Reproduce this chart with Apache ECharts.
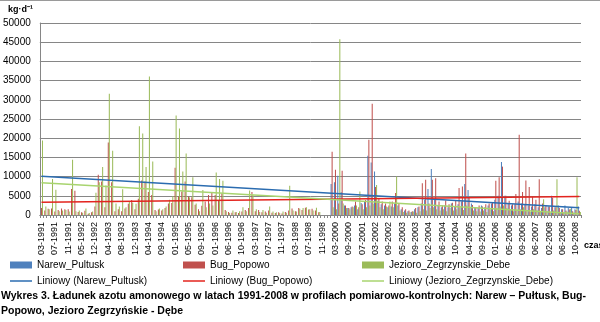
<!DOCTYPE html>
<html>
<head>
<meta charset="utf-8">
<script src="https://cdn.jsdelivr.net/npm/echarts@6/dist/echarts.min.js"></script>
<style>
  html, body { margin: 0; padding: 0; background: #ffffff; }
  #chart { width: 600px; height: 322px; }
</style>
</head>
<body>
<div id="chart"></div>
<script>
// Sampling dates (month-year)
const months = [
  '03-1991','04-1991','05-1991','06-1991','07-1991','08-1991','09-1991','10-1991',
  '11-1991','01-1992','02-1992','04-1992','05-1992','07-1992','09-1992','10-1992',
  '12-1992','01-1993','02-1993','03-1993','04-1993','05-1993','06-1993','07-1993',
  '08-1993','09-1993','10-1993','11-1993','12-1993','01-1994','02-1994','03-1994',
  '04-1994','05-1994','06-1994','08-1994','09-1994','10-1994','11-1994','12-1994',
  '01-1995','02-1995','03-1995','04-1995','05-1995','06-1995','07-1995','08-1995',
  '09-1995','10-1995','11-1995','12-1995','01-1996','02-1996','03-1996','05-1996',
  '06-1996','07-1996','08-1996','09-1996','10-1996','11-1996','12-1996','02-1997',
  '03-1997','04-1997','05-1997','06-1997','07-1997','08-1997','09-1997','10-1997',
  '11-1997','12-1997','01-1998','02-1998','03-1998','04-1998','05-1998','06-1998',
  '07-1998','08-1998','09-1998','10-1998','11-1998','12-1998','01-1999','02-2000',
  '03-2000','04-2000','05-2000','07-2000','09-2000','11-2000','01-2001','04-2001',
  '07-2001','09-2001','11-2001','01-2002','03-2002','04-2002','06-2002','07-2002',
  '09-2002','11-2002','01-2003','03-2003','05-2003','06-2003','07-2003','08-2003',
  '09-2003','10-2003','11-2003','12-2003','02-2004','03-2004','04-2004','05-2004',
  '06-2004','07-2004','08-2004','09-2004','10-2004','12-2004','02-2005','03-2005',
  '04-2005','05-2005','06-2005','08-2005','09-2005','10-2005','11-2005','12-2005',
  '01-2006','02-2006','03-2006','04-2006','05-2006','06-2006','07-2006','08-2006',
  '09-2006','11-2006','01-2007','04-2007','06-2007','08-2007','10-2007','12-2007',
  '02-2008','03-2008','04-2008','05-2008','06-2008','07-2008','08-2008','09-2008',
  '10-2008','11-2008'
];

// Ammonium nitrogen load, kg/d — Narew at Pultusk (no samples before 2000)
const narewPultusk = [
  null,null,null,null,null,null,null,null,null,null,
  null,null,null,null,null,null,null,null,null,null,
  null,null,null,null,null,null,null,null,null,null,
  null,null,null,null,null,null,null,null,null,null,
  null,null,null,null,null,null,null,null,null,null,
  null,null,null,null,null,null,null,null,null,null,
  null,null,null,null,null,null,null,null,null,null,
  null,null,null,null,null,null,null,null,null,null,
  null,null,null,null,null,null,null,8100,8500,10200,
  6000,2500,1800,2000,2500,1500,3100,3600,15400,13700,
  11300,3700,2800,2500,2000,2200,3000,2500,1500,1200,
  1000,800,1500,2000,3000,4000,6800,12000,4000,2500,
  2000,2500,2000,3000,2200,2800,3500,8100,6500,3000,
  2000,1800,2500,2000,2500,3000,4000,5000,13800,5000,
  3000,2500,2800,3500,3000,2600,2500,2200,2800,2000,
  1800,2000,2200,5000,2000,2500,1500,2500,1800,1900,
  1500,2200
];

// Bug at Popowo
const bugPopowo = [
  1800,1200,1600,1700,900,1300,1700,1500,1500,6800,
  6300,800,700,1100,300,700,2200,10500,8700,2000,
  18900,8500,1000,1500,1000,1700,2900,3900,1500,4200,
  9000,8700,6000,5200,1300,1400,1200,1800,3000,3100,
  12300,4800,6100,8700,4800,4600,2700,1500,2400,3500,
  5200,5700,5200,3700,5600,1300,800,600,700,500,
  900,1300,1800,6000,1000,1300,700,900,1200,600,
  500,700,400,800,1200,1700,1000,1800,1300,1900,
  1400,1600,1200,700,0,0,0,16500,11800,3000,
  11500,2500,1800,2200,3500,2000,2800,3900,19600,29000,
  7300,4400,3500,3000,2500,3500,5700,3000,2000,1500,
  1200,1000,1800,2200,8300,9200,3000,9200,9600,3500,
  2500,3800,2800,3200,3800,7000,7400,16000,4500,2600,
  2000,2500,2200,2800,3000,3200,8900,9800,12600,5000,
  3700,2800,5500,20900,6000,9000,7300,4800,4000,9300,
  3000,2500,2200,4500,2000,1800,1500,1200,1400,1000,
  1300,1100
];

// Zegrze Reservoir at Debe
const zegrzeDebe = [
  19400,2200,1500,9400,6600,1000,1200,1300,900,14400,
  1000,1200,600,1700,500,900,5800,8500,12500,7700,
  31600,16700,3000,2200,6700,2000,3400,3200,2900,23100,
  21200,12500,36100,13900,1000,1700,1500,2200,4000,4900,
  25900,22500,11300,16000,4600,9800,3000,1000,6500,2000,
  3000,2500,11100,9400,8900,1000,500,1200,800,1000,
  2000,1000,6400,5200,1500,800,1300,600,2200,900,
  700,500,900,600,7600,1200,900,1600,1800,2000,
  1500,1200,1900,800,0,0,0,2000,1500,45800,
  3000,1800,1500,2000,2500,6100,1500,2000,2500,3000,
  7800,2000,1500,2200,3500,2000,10000,1200,800,600,
  700,900,600,1000,1500,1200,1800,2000,1500,1200,
  1500,1000,1800,1200,1500,2000,1300,2500,1800,1200,
  1000,900,1200,800,1500,1000,1800,2200,2500,1800,
  1500,1000,1200,1500,2000,1000,800,1500,1200,1000,
  4100,800,600,1200,9300,700,500,900,1600,600,
  9800,800
];

// Linear trend values at the first and last sampling date
const trendNarew = [10100, 1900];
const trendBug = [3300, 4800];
const trendZegrze = [8400, 300];

const yTicks = [0, 5000, 10000, 15000, 20000, 25000, 30000, 35000, 40000, 45000, 50000];

const seriesNames = ['Narew_Pultusk', 'Bug_Popowo', 'Jezioro_Zegrzynskie_Debe'];
const trendNames = seriesNames.map(n => 'Liniowy (' + n + ')');
const barColors = ['#4F81BD', '#C0504D', '#9BBB59'];
const trendColors = ['#2B6CB0', '#E3241E', '#A8D46F'];

function trendLine(ends) {
  const arr = months.map(() => null);
  arr[0] = ends[0];
  arr[arr.length - 1] = ends[1];
  return arr;
}

const FONT = '"Liberation Sans", Arial, sans-serif';
const chart = echarts.init(document.getElementById('chart'), null, { renderer: 'canvas' });

const barData = [narewPultusk, bugPopowo, zegrzeDebe];
const trendEnds = [trendNarew, trendBug, trendZegrze];

const series = [];
barData.forEach((d, i) => {
  series.push({
    name: seriesNames[i], type: 'bar', data: d,
    barGap: '0%', barCategoryGap: '8%',
    itemStyle: { color: barColors[i] },
    emphasis: { disabled: true }, z: 2
  });
});
trendEnds.forEach((e, i) => {
  series.push({
    name: trendNames[i], type: 'line', data: trendLine(e),
    connectNulls: true, showSymbol: false, symbol: 'none',
    lineStyle: { color: trendColors[i], width: 1.5 },
    itemStyle: { color: trendColors[i] },
    emphasis: { disabled: true }, z: 5
  });
});

// thin horizontal bar used as the trend-line legend key
const LINE_ICON = 'path://M0,0H44V3H0Z';

const legendCommon = {
  orient: 'vertical', top: 260, padding: 0, itemWidth: 22, itemHeight: 7, itemGap: 6,
  textStyle: { fontFamily: FONT, fontSize: 10, color: '#000' },
  selectedMode: false
};

chart.setOption({
  animation: false,
  backgroundColor: '#ffffff',
  grid: { left: 37, right: 19, top: 23, bottom: 107, containLabel: false },
  xAxis: {
    type: 'category', data: months,
    axisLine: { lineStyle: { color: '#868686' } },
    axisTick: { show: true, interval: 0, length: 3, lineStyle: { color: '#868686' } },
    axisLabel: {
      interval: 3, rotate: 90, fontFamily: FONT, fontSize: 9, color: '#000', margin: 7
    },
    splitLine: { show: false }
  },
  yAxis: {
    type: 'value', min: yTicks[0], max: yTicks[yTicks.length - 1], interval: 5000,
    axisLine: { show: true, lineStyle: { color: '#868686' } },
    axisTick: { show: false },
    axisLabel: { fontFamily: FONT, fontSize: 10, color: '#000', margin: 9,
      formatter: v => String(v) },
    splitLine: { lineStyle: { color: '#868686', width: 1 } }
  },
  legend: [0, 1, 2].map(i => Object.assign({}, legendCommon, {
    left: [10, 183, 362][i],
    data: [
      { name: seriesNames[i], icon: 'rect' },
      { name: trendNames[i], icon: LINE_ICON, itemStyle: { color: trendColors[i] } }
    ]
  })),
  graphic: [
    { type: 'line', shape: { x1: 0, y1: 0.5, x2: 600, y2: 0.5 }, style: { stroke: '#9a9a9a', lineWidth: 1 } },
    { type: 'text', left: 8, top: 5, style: { text: 'kg·d⁻¹', font: 'bold 9px ' + FONT, fill: '#000' } },
    { type: 'text', left: 584, top: 241, style: { text: 'czas', font: 'bold 9px ' + FONT, fill: '#000' } },
    { type: 'text', left: 1, top: 289, style: {
      text: 'Wykres 3. Ładunek azotu amonowego w latach 1991-2008 w profilach pomiarowo-kontrolnych: Narew – Pułtusk, Bug-\nPopowo, Jezioro Zegrzyńskie - Dębe',
      font: 'bold 10.5px ' + FONT, fill: '#000', lineHeight: 15 } }
  ],
  series: series
});
</script>
</body>
</html>
